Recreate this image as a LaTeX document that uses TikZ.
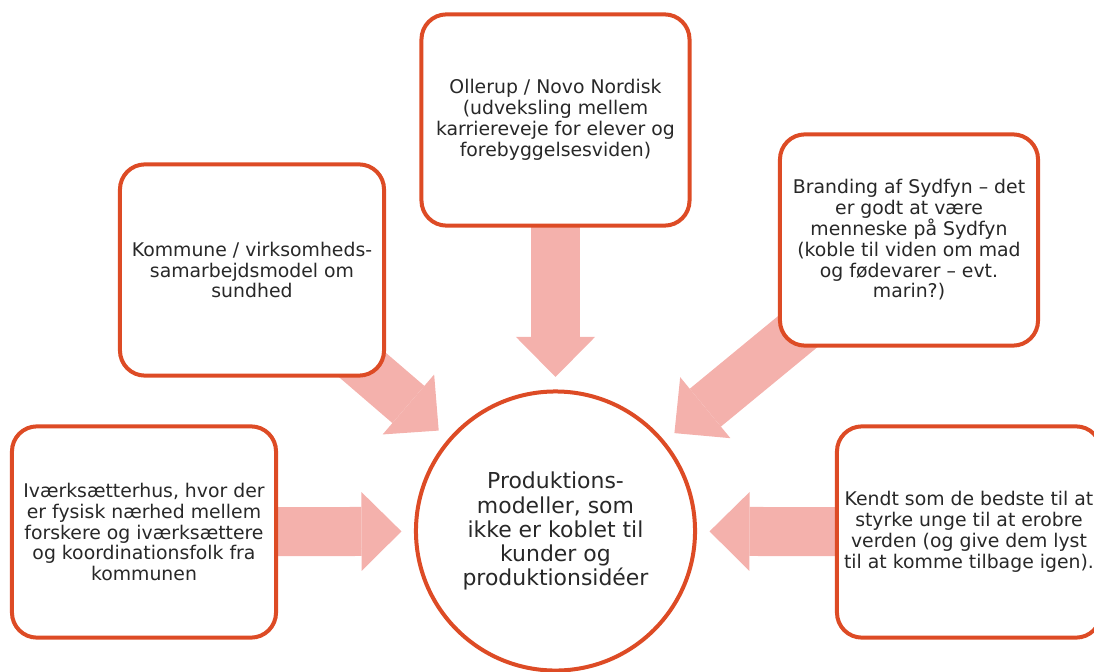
\documentclass[tikz,border=0pt]{standalone}
\usepackage{fontspec}
\setmainfont{DejaVu Sans}
\usetikzlibrary{arrows.meta,calc,backgrounds}
\definecolor{rand}{RGB}{221,75,37}
\definecolor{pilfarve}{RGB}{244,177,172}
\definecolor{tekst}{RGB}{40,40,40}
\begin{document}
\begin{tikzpicture}[x=0.025cm,y=-0.025cm,
	boks/.style={draw=rand,fill=white,line width=0.1cm,rounded corners=0.625cm,minimum width=6.6cm,minimum height=5.28cm,inner sep=0pt,align=center,text=tekst,font=\fontsize{13.4}{14.8}\selectfont},
	pil/.style={draw=pilfarve,line width=1.225cm,-{Triangle[length=1cm 0 0,width=1.975cm 0 0,line width=0pt 0 0]}}]
	\useasboundingbox (0,0) rectangle (1094,672);
	\node[circle,draw=rand,fill=white,line width=0.1cm,minimum size=6.975cm,inner sep=0pt,align=center,text=tekst,font=\fontsize{15.6}{17.1}\selectfont] (M) at (555.5,531){Produktions-\\modeller, som\\ikke er koblet til\\kunder og\\produktionsidéer};
	\node[boks,minimum width=6.7cm] (B1) at (555.5,120){Ollerup / Novo Nordisk\\(udveksling mellem\\karriereveje for elever og\\forebyggelsesviden)};
	\node[boks] (B2) at (252,270){Kommune / virksomheds-\\samarbejdsmodel om\\sundhed};
	\node[boks,minimum width=6.45cm] (B3) at (909,240){Branding af Sydfyn – det\\er godt at være\\menneske på Sydfyn\\(koble til viden om mad\\og fødevarer – evt.\\marin?)};
	\node[boks] (B4) at (144,532){Iværksætterhus, hvor der\\er fysisk nærhed mellem\\forskere og iværksættere\\og koordinationsfolk fra\\kommunen};
	\node[boks] (B5) at (969,532){Kendt som de bedste til at\\styrke unge til at erobre\\verden (og give dem lyst\\til at komme tilbage igen).};
	% pilespidser ved cirklen
	\coordinate (T1) at ($(M.center)!3.85cm!(B1.center)$);
	\coordinate (T2) at ($(M.center)!3.85cm!(B2.center)$);
	\coordinate (T3) at ($(M.center)!3.85cm!(B3.center)$);
	\coordinate (T4) at ($(M.center)!3.85cm!(B4.center)$);
	\coordinate (T5) at ($(M.center)!3.85cm!(B5.center)$);
	\begin{scope}[on background layer]
	\draw[pil] (B1.center) -- (T1);
	\draw[pil] (B2.center) -- (T2);
	\draw[pil] (B3.center) -- (T3);
	\draw[pil] (B4.center) -- (T4);
	\draw[pil] (B5.center) -- (T5);
	\end{scope}
\end{tikzpicture}
\end{document}
